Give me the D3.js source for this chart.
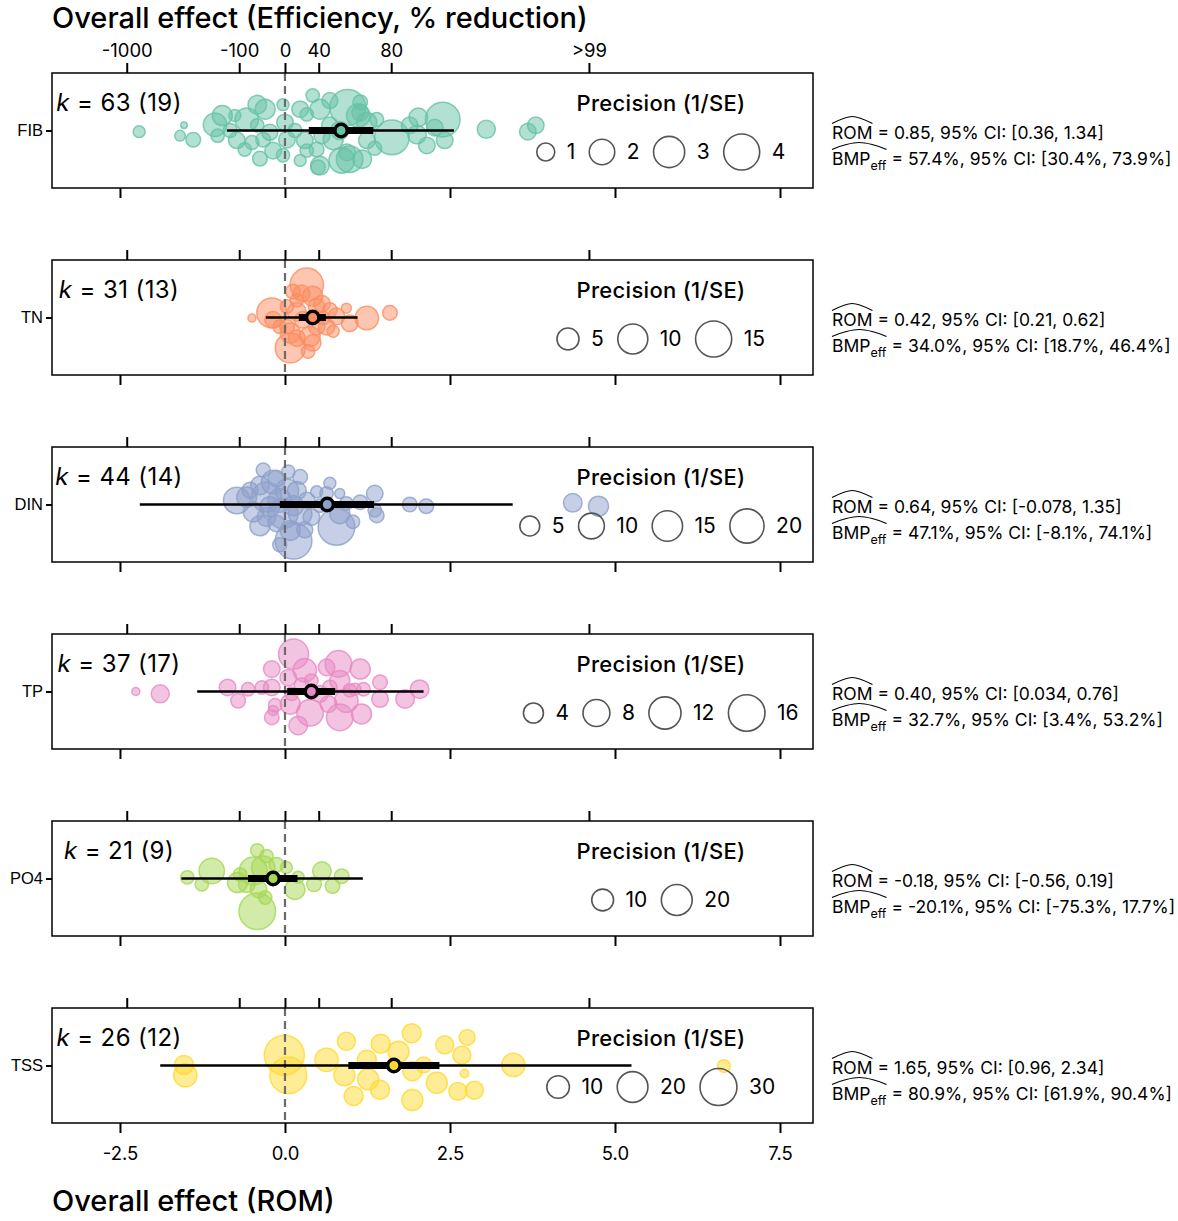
<!DOCTYPE html>
<html>
<head>
<meta charset="utf-8">
<script src="https://cdn.jsdelivr.net/npm/d3@7"></script>
<style>
  body { margin: 0; background: #fff; }
  text { font-family: Inter, Roboto, sans-serif; fill: #000; }
</style>
</head>
<body>
<script>
// --- Data ---
const outcomes = ["FIB", "TN", "DIN", "TP", "PO4", "TSS"];
const colors = ["#66c2a5", "#fc8d62", "#8da0cb", "#e78ac3", "#a6d854", "#ffd92f"];
const kEffects = [63, 31, 44, 37, 21, 26];
const kStudies = [19, 13, 14, 17, 9, 12];

// pooled ROM, 95% CI, prediction interval
const romEst = [0.85, 0.42, 0.64, 0.40, -0.18, 1.65];
const ciLow = [0.36, 0.21, -0.078, 0.034, -0.56, 0.96];
const ciHigh = [1.34, 0.62, 1.35, 0.76, 0.19, 2.34];
const piLow = [-0.88, -0.29, -2.20, -1.33, -1.57, -1.89];
const piHigh = [2.56, 1.10, 3.45, 2.10, 1.18, 5.25];

// BMP efficiency (%)
const bmpEst = [57.4, 34.0, 47.1, 32.7, -20.1, 80.9];
const bmpLow = [30.4, 18.7, -8.1, 3.4, -75.3, 61.9];
const bmpHigh = [73.9, 46.4, 74.1, 53.2, 17.7, 90.4];

// size legend breaks (precision, 1/SE)
const legendBreaks = [[1, 2, 3, 4], [5, 10, 15], [5, 10, 15, 20], [4, 8, 12, 16], [10, 20], [10, 20, 30]];

// axis ticks
const bottomTicks = [-2.5, 0, 2.5, 5, 7.5];
const topTickEff = [-1000, -100, 0, 40, 80, 99];
const topTickLabels = ["-1000", "-100", "0", "40", "80", ">99"];

// individual effect sizes: [ROM, vertical jitter, precision]
const fibPoints = [
  [-2.21, 0.02, 0.44], [-1.53, -0.09, 0.13], [-1.59, 0.09, 0.35], [-1.39, 0.16, 0.66],
  [-1.06, -0.10, 1.69], [-1.02, 0.09, 0.55], [-0.95, -0.26, 1.23], [-0.76, -0.26, 0.44],
  [-0.73, 0.17, 0.85], [-0.61, 0.33, 0.55], [-0.58, -0.19, 1.69], [-0.42, -0.45, 1.07],
  [-0.38, 0.49, 0.66], [-0.30, -0.37, 1.23], [-0.33, 0.16, 0.66], [-0.18, 0.35, 0.85],
  [-0.42, -0.09, 0.55], [-0.03, -0.45, 0.44], [0.00, -0.14, 0.85], [0.03, 0.16, 0.85],
  [-0.03, 0.43, 0.55], [0.23, -0.37, 0.85], [0.30, 0.17, 0.85], [0.42, -0.61, 0.55],
  [0.48, 0.33, 0.66], [0.68, -0.09, 0.85], [0.73, 0.16, 1.23], [0.95, -0.40, 4.0],
  [0.98, 0.50, 2.18], [0.53, 0.61, 1.07], [0.94, 0.38, 0.85], [1.14, -0.31, 0.85],
  [1.24, -0.14, 1.23], [1.39, -0.19, 0.6], [1.14, -0.49, 0.66], [1.11, -0.26, 1.69],
  [0.53, -0.37, 1.23], [0.33, -0.28, 0.55], [0.33, 0.35, 0.55], [0.50, 0.64, 0.66],
  [0.86, 0.52, 2.0], [1.17, 0.50, 1.07], [1.24, 0.17, 0.85], [1.62, 0.12, 3.7],
  [2.02, -0.23, 1.07], [1.89, -0.09, 0.85], [2.00, 0.07, 1.07], [2.15, 0.26, 0.85],
  [2.27, -0.05, 0.85], [2.39, -0.19, 3.7], [2.42, 0.17, 0.85], [3.05, -0.02, 1.0],
  [3.68, 0.02, 0.85], [3.80, -0.09, 0.85], [-0.23, 0.03, 0.79], [0.15, 0.00, 0.6],
  [-0.50, 0.21, 0.6], [-0.83, 0.00, 0.6], [0.83, 0.00, 1.0], [1.36, 0.31, 0.6],
  [0.23, 0.52, 0.44], [0.68, -0.52, 0.79], [0.56, 0.09, 0.79]
];
const tnPoints = [
  [-0.50, 0.01, 0.37], [-0.20, -0.08, 10.0], [-0.18, 0.04, 2.57], [0.33, -0.57, 12.66],
  [0.12, -0.45, 1.88], [0.25, -0.42, 2.57], [0.42, -0.37, 4.0], [0.56, -0.24, 2.57],
  [0.68, -0.13, 1.88], [0.18, -0.10, 3.38], [0.03, -0.19, 1.52], [0.78, -0.02, 2.57],
  [0.93, -0.16, 0.70], [0.98, 0.10, 2.57], [1.24, 0.01, 5.74], [1.59, -0.08, 1.88],
  [0.08, 0.27, 4.0], [0.18, 0.36, 2.57], [0.38, 0.33, 4.0], [0.48, 0.16, 2.57],
  [0.63, 0.16, 2.57], [0.73, 0.24, 1.14], [0.08, 0.53, 10.0], [0.35, 0.59, 1.52],
  [0.42, 0.44, 2.57], [0.03, 0.16, 1.88], [0.27, 0.04, 2.57], [0.58, 0.01, 1.52],
  [0.48, -0.19, 2.57], [0.18, -0.30, 1.52], [-0.08, 0.16, 1.52]
];
const dinPoints = [
  [-0.73, -0.07, 10.77], [-0.38, -0.33, 4.13], [-0.28, -0.13, 14.5], [-0.18, -0.39, 7.74],
  [0.05, -0.57, 1.49], [0.23, -0.48, 1.98], [0.18, -0.24, 4.13], [-0.48, 0.13, 5.06],
  [-0.28, 0.22, 4.13], [-0.13, 0.33, 2.95], [0.08, 0.45, 5.06], [0.13, 0.63, 23.5],
  [0.23, 0.16, 7.74], [-0.08, -0.07, 7.74], [0.48, -0.22, 1.0], [0.68, -0.37, 1.0],
  [0.83, -0.19, 0.47], [0.53, 0.02, 1.49], [0.78, 0.39, 23.5], [0.83, 0.16, 5.06],
  [0.93, -0.02, 1.49], [1.14, -0.04, 1.98], [1.36, -0.19, 2.95], [1.36, 0.10, 1.49],
  [1.39, 0.19, 1.98], [1.89, 0.00, 1.98], [2.14, 0.03, 1.98], [0.40, 0.22, 2.95],
  [0.33, -0.07, 2.95], [-0.38, 0.37, 5.06], [-0.03, 0.16, 14.5], [0.03, -0.24, 7.74],
  [-0.23, 0.04, 5.06], [0.13, 0.02, 5.06], [0.63, -0.19, 1.49], [1.03, 0.30, 1.49],
  [-0.58, -0.13, 5.06], [-0.13, -0.45, 2.95], [4.36, -0.03, 4.13], [4.75, 0.03, 5.06],
  [-0.33, -0.60, 1.72], [-0.53, -0.25, 2.64], [0.30, 0.44, 2.64], [-0.08, 0.70, 1.72]
];
const tpPoints = [
  [-2.26, 0.00, 0.31], [-1.89, 0.04, 3.09], [-0.87, -0.07, 2.53], [-0.71, 0.16, 1.82],
  [-0.56, -0.04, 1.45], [-0.20, -0.39, 2.53], [-0.20, -0.07, 2.53], [-0.15, 0.24, 1.45],
  [-0.20, 0.45, 1.82], [0.13, -0.65, 10.3], [0.05, -0.24, 2.53], [0.08, 0.22, 4.0],
  [0.20, 0.59, 3.35], [0.30, -0.37, 5.8], [0.40, -0.19, 1.45], [0.38, 0.37, 7.8],
  [0.63, -0.42, 2.53], [0.81, -0.48, 7.8], [0.83, -0.19, 4.0], [1.14, -0.39, 4.0],
  [0.93, 0.16, 5.8], [0.83, 0.45, 7.8], [0.66, 0.22, 2.53], [0.53, 0.04, 2.53],
  [1.19, -0.04, 1.45], [1.16, 0.39, 4.0], [0.98, -0.02, 1.45], [1.44, -0.16, 1.82],
  [1.44, 0.13, 2.53], [1.82, 0.13, 3.35], [2.04, -0.04, 3.35], [-0.35, -0.07, 1.45],
  [-0.18, 0.33, 0.63], [0.10, 0.04, 1.45], [0.68, -0.07, 1.82], [0.25, -0.11, 1.82],
  [1.06, -0.04, 1.07]
];
const po4Points = [
  [-1.48, -0.02, 3.77], [-1.11, -0.13, 13.55], [-1.26, 0.10, 3.77], [-0.72, 0.07, 8.4],
  [-0.42, -0.49, 3.77], [-0.28, -0.39, 3.77], [-0.48, -0.13, 16.5], [-0.33, -0.19, 11.5],
  [-0.40, 0.19, 5.79], [-0.30, 0.33, 3.77], [-0.42, 0.57, 28.1], [0.02, -0.19, 3.0],
  [0.15, 0.19, 8.4], [0.20, -0.02, 3.0], [0.56, -0.13, 7.27], [0.44, 0.10, 4.48],
  [0.72, 0.13, 4.48], [0.86, -0.04, 4.48], [-0.68, -0.07, 3.77], [-0.58, 0.10, 5.79],
  [-0.13, -0.24, 4.48]
];
const tssPoints = [
  [-1.53, -0.01, 6.66], [-1.51, 0.17, 10.6], [-0.01, -0.18, 35.6], [0.05, 0.17, 29.7],
  [0.63, -0.10, 10.6], [0.93, -0.42, 5.85], [0.90, 0.17, 8.43], [1.04, 0.53, 6.66],
  [1.24, -0.10, 6.66], [1.26, 0.24, 8.43], [1.45, -0.38, 6.66], [1.44, 0.42, 6.66],
  [1.72, -0.24, 8.43], [1.92, -0.56, 6.66], [1.93, 0.10, 6.66], [1.93, 0.60, 8.43],
  [2.10, -0.01, 4.26], [2.30, 0.30, 8.43], [2.42, -0.36, 5.85], [2.62, 0.45, 5.85],
  [2.68, -0.18, 5.85], [2.72, 0.14, 0.76], [2.76, -0.49, 4.26], [2.87, 0.43, 5.85],
  [3.46, -0.01, 10.6], [6.65, 0.01, 2.4]
];
const allPoints = [fibPoints, tnPoints, dinPoints, tpPoints, po4Points, tssPoints];

// --- Layout ---
const width = 1178, height = 1221;
const plotLeft = 52, plotRight = 813;
const firstTop = 73, panelH = 115, panelStep = 187;
// bubble radius = base + slope * sqrt(precision), per panel
const sizeBase = [0, 1.4, 2.8, 1.7, 0, 1.5];
const sizeSlope = [9, 4.3, 3.2, 4.15, 3.45, 3.1];

const locale = d3.formatLocale({ decimal: ".", thousands: ",", grouping: [3], currency: ["", ""], minus: "-" });
const f1 = locale.format(".1f");
const romFmt = (v) => (Math.abs(v) < 0.1 ? locale.format(".2")(v) : locale.format(".2f")(v));
const effToRom = (e) => -Math.log(1 - e / 100);

const x = d3.scaleLinear().domain([-3.53, 8.0]).range([plotLeft, plotRight]);

const svg = d3.select("body").append("svg")
  .attr("width", width).attr("height", height)
  .attr("viewBox", `0 0 ${width} ${height}`);

// titles
svg.append("text").attr("x", 52).attr("y", 28)
  .style("font-size", "29px").style("font-weight", 500)
  .text("Overall effect (Efficiency, % reduction)");
svg.append("text").attr("x", 52).attr("y", 1211)
  .style("font-size", "29px").style("font-weight", 500)
  .text("Overall effect (ROM)");

function styleAxis(g, fontSize) {
  g.select(".domain").remove();
  g.selectAll(".tick line").attr("stroke", "#000").attr("stroke-width", 2);
  g.selectAll(".tick text").style("font-size", fontSize).attr("fill", "#000")
    .style("font-family", "Inter, Roboto, sans-serif");
}

outcomes.forEach((name, i) => {
  const top = firstTop + i * panelStep;
  const bottom = top + panelH;
  const mid = top + panelH / 2;
  const y = d3.scaleLinear().domain([-1, 1]).range([top, bottom]);
  const maxBreak = d3.max(legendBreaks[i]);
  const r = d3.scaleSqrt().domain([0, maxBreak])
    .range([sizeBase[i], sizeBase[i] + sizeSlope[i] * Math.sqrt(maxBreak)]);
  const g = svg.append("g");

  // bubbles
  g.append("g").selectAll("circle")
    .data(allPoints[i])
    .join("circle")
    .attr("cx", (d) => x(d[0]))
    .attr("cy", (d) => y(d[1]))
    .attr("r", (d) => r(d[2]))
    .attr("fill", colors[i]).attr("fill-opacity", 0.5)
    .attr("stroke", colors[i]).attr("stroke-opacity", 0.8).attr("stroke-width", 1.5);

  // zero reference
  g.append("line")
    .attr("x1", x(0)).attr("x2", x(0)).attr("y1", top).attr("y2", bottom)
    .attr("stroke", "#6a6a6a").attr("stroke-width", 2.2).attr("stroke-dasharray", "8,5");

  // prediction interval, confidence interval, pooled estimate
  g.append("line")
    .attr("x1", x(piLow[i])).attr("x2", x(piHigh[i])).attr("y1", mid).attr("y2", mid)
    .attr("stroke", "#000").attr("stroke-width", 2.6);
  g.append("line")
    .attr("x1", x(ciLow[i])).attr("x2", x(ciHigh[i])).attr("y1", mid).attr("y2", mid)
    .attr("stroke", "#000").attr("stroke-width", 7);
  g.append("circle")
    .attr("cx", x(romEst[i])).attr("cy", mid).attr("r", 6.2)
    .attr("fill", colors[i]).attr("stroke", "#000").attr("stroke-width", 3.5);

  // panel border
  g.append("rect")
    .attr("x", plotLeft).attr("y", top)
    .attr("width", plotRight - plotLeft).attr("height", panelH)
    .attr("fill", "none").attr("stroke", "#000").attr("stroke-width", 1.5);

  // axes
  g.append("g").attr("transform", `translate(0,${top})`)
    .call(d3.axisTop(x)
      .tickValues(topTickEff.map(effToRom))
      .tickSize(10).tickPadding(6)
      .tickFormat((d, j) => (i === 0 ? topTickLabels[j] : "")))
    .call((a) => styleAxis(a, "18.5px"));
  g.append("g").attr("transform", `translate(0,${bottom})`)
    .call(d3.axisBottom(x)
      .tickValues(bottomTicks)
      .tickSize(10).tickPadding(14)
      .tickFormat((d) => (i === outcomes.length - 1 ? f1(d) : "")))
    .call((a) => styleAxis(a, "18.5px"));
  g.append("g").attr("transform", `translate(${plotLeft},0)`)
    .call(d3.axisLeft(d3.scalePoint().domain([name]).range([mid, mid]))
      .tickSize(6).tickPadding(3))
    .call((a) => styleAxis(a, "16.5px"))
    .call((a) => a.selectAll(".tick text").style("font-family", "'Liberation Sans', Arial, sans-serif"));

  // k label
  const kt = g.append("text").attr("x", 119).attr("y", top + 38)
    .attr("text-anchor", "middle").style("font-size", "24px").style("letter-spacing", "0.4px");
  kt.append("tspan").style("font-style", "italic").text("k");
  kt.append("tspan").text(` = ${kEffects[i]} (${kStudies[i]})`);

  // size legend
  g.append("text").attr("x", 661).attr("y", top + 38)
    .attr("text-anchor", "middle").style("font-size", "22px").style("font-weight", 500)
    .style("letter-spacing", "0.3px")
    .text("Precision (1/SE)");
  const leg = g.append("g");
  let cursor = 0;
  legendBreaks[i].forEach((b) => {
    const rr = r(b);
    leg.append("circle")
      .attr("cx", cursor + rr).attr("cy", top + 79).attr("r", rr)
      .attr("fill", "none").attr("stroke", "#555").attr("stroke-width", 1.6);
    cursor += 2 * rr + 12;
    const t = leg.append("text").attr("x", cursor).attr("y", top + 86)
      .style("font-size", "21px").text(b);
    cursor += t.node().getComputedTextLength() + 14;
  });
  cursor -= 14;
  leg.attr("transform", `translate(${661 - cursor / 2},0)`);

  // estimate annotations
  const ax = 832;
  const hat = (x0, x1, yb) =>
    g.append("path")
      .attr("d", `M${x0},${yb} C${x0 + 8},${yb - 4} ${(x0 + x1) / 2 - 6},${yb - 7} ${(x0 + x1) / 2},${yb - 7}` +
        ` C${(x0 + x1) / 2 + 6},${yb - 7} ${x1 - 8},${yb - 4} ${x1},${yb}`)
      .attr("fill", "none").attr("stroke", "#000").attr("stroke-width", 1.2);

  const l1 = g.append("text").attr("x", ax).attr("y", mid + 8)
    .style("font-size", "17.5px");
  const romSpan = l1.append("tspan").text("ROM");
  l1.append("tspan").text(` = ${romFmt(romEst[i])}, 95% CI: [${romFmt(ciLow[i])}, ${romFmt(ciHigh[i])}]`);
  const romW = romSpan.node().getComputedTextLength();
  hat(ax, ax + romW, mid - 7);

  const l2 = g.append("text").attr("x", ax).attr("y", mid + 34)
    .style("font-size", "17.5px");
  l2.append("tspan").text("BMP");
  l2.append("tspan").attr("dy", 5).style("font-size", "12.5px").text("eff");
  l2.append("tspan").attr("dy", -5)
    .text(` = ${f1(bmpEst[i])}%, 95% CI: [${f1(bmpLow[i])}%, ${f1(bmpHigh[i])}%]`);
  const bmpW = l2.node().getSubStringLength(0, 6);
  hat(ax, ax + bmpW, mid + 19);
});
</script>
</body>
</html>
